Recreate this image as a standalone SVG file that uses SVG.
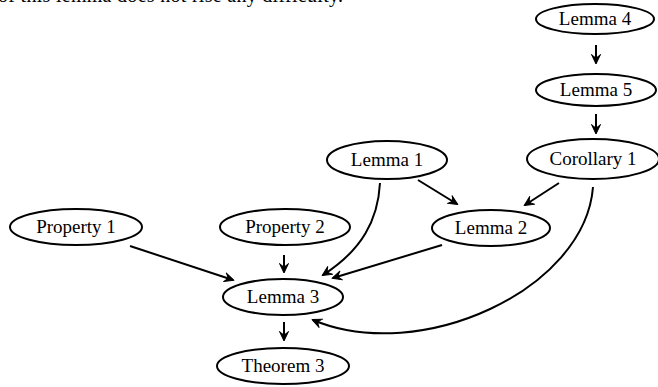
<svg xmlns="http://www.w3.org/2000/svg" width="658" height="387" viewBox="0 0 658 387">
<style>
.n ellipse{fill:#fff;stroke:#000;stroke-width:2}
.n text{font-family:"Liberation Serif","Times New Roman",serif;font-size:19px;text-anchor:middle;fill:#000}
.e path{fill:none;stroke:#000;stroke-width:2;marker-end:url(#ah)}
.top{font-family:"Liberation Serif","Times New Roman",serif;font-size:20px;fill:#000}
</style>
<defs>
<marker id="ah" markerUnits="userSpaceOnUse" markerWidth="14" markerHeight="14" refX="10" refY="6" orient="auto">
<path d="M11,6 L1.5,1.5 Q4.5,4.5 4.5,6 Q4.5,7.5 1.5,10.5 Z" fill="#000" stroke="#000" stroke-width="1" stroke-linejoin="round"/>
</marker>
</defs>
<rect width="658" height="387" fill="#fff"/>
<text class="top" x="-2" y="2" textLength="345">of this lemma does not rise any difficulty.</text>
<g id="edges" class="e">
<path d="M596,45 L596,63"/>
<path d="M596,114 L596,133"/>
<path d="M284,255 L284,272"/>
<path d="M284,322 L284,340"/>
<path d="M130,246 L233,280"/>
<path d="M380,183 C378,220 362,250 323,275"/>
<path d="M418,180 L457,204"/>
<path d="M559,183 L525,205"/>
<path d="M442,245 L333,278"/>
<path d="M593,187 C585,290 420,365 313,320"/>
</g>
<g id="lemma4" class="n"><ellipse cx="595" cy="19" rx="59" ry="15"/><text x="595" y="25">Lemma 4</text></g>
<g id="lemma5" class="n"><ellipse cx="596" cy="90" rx="60" ry="16"/><text x="596" y="96">Lemma 5</text></g>
<g id="corollary1" class="n"><ellipse cx="593" cy="159" rx="66" ry="20"/><text x="593" y="165">Corollary 1</text></g>
<g id="lemma1" class="n"><ellipse cx="387" cy="160" rx="60" ry="19"/><text x="387" y="166">Lemma 1</text></g>
<g id="lemma2" class="n"><ellipse cx="491" cy="228" rx="59" ry="18"/><text x="491" y="234">Lemma 2</text></g>
<g id="property1" class="n"><ellipse cx="76" cy="227" rx="66" ry="18"/><text x="76" y="233">Property 1</text></g>
<g id="property2" class="n"><ellipse cx="285" cy="227" rx="65" ry="18"/><text x="285" y="233">Property 2</text></g>
<g id="lemma3" class="n"><ellipse cx="283" cy="297" rx="60" ry="18"/><text x="283" y="303">Lemma 3</text></g>
<g id="theorem3" class="n"><ellipse cx="283" cy="366" rx="66" ry="18"/><text x="283" y="372">Theorem 3</text></g>
</svg>
